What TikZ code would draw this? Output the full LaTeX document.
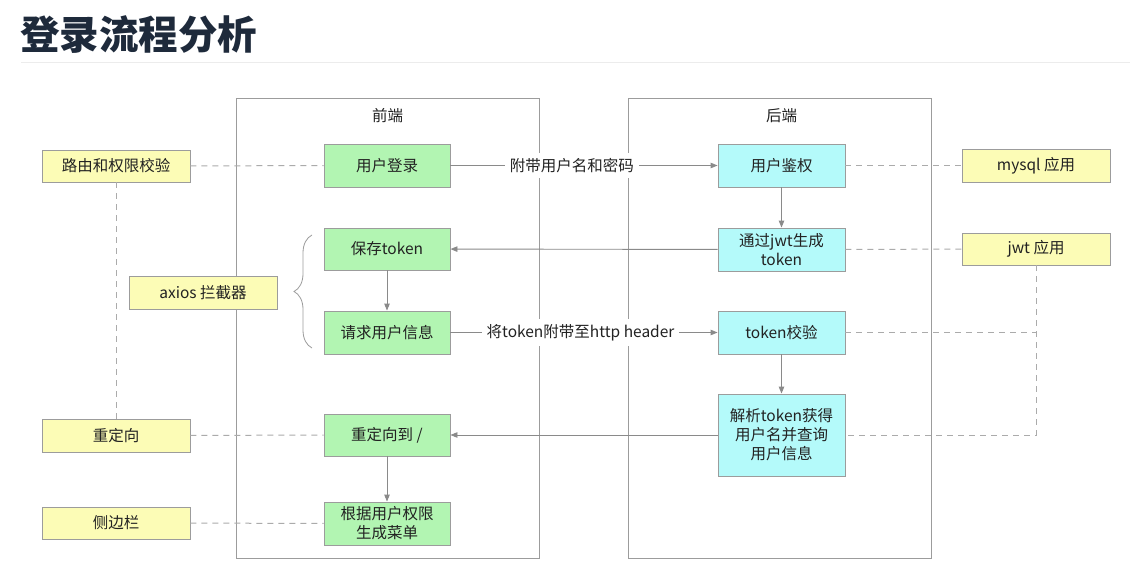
\documentclass[tikz,border=0pt]{standalone}
\usepackage{fontspec}
\setmainfont{Noto Sans CJK SC}
\usetikzlibrary{arrows.meta,decorations.pathreplacing}
\definecolor{boxgreen}{HTML}{B2F5B2}
\definecolor{boxcyan}{HTML}{B4FAFA}
\definecolor{boxyellow}{HTML}{FCFCB6}
\definecolor{bordergray}{HTML}{9C9C9C}
\definecolor{linegray}{HTML}{8A8A8A}
\definecolor{dashgray}{HTML}{ABABAB}
\definecolor{titleblue}{HTML}{1E2A3B}
\definecolor{txt}{HTML}{222222}
\tikzset{
  base/.style={draw=bordergray, line width=0.9pt, inner sep=0pt, align=center, text=txt,
    font=\fontsize{15.5}{19}\selectfont},
  fnode/.style={base, fill=boxgreen, minimum width=126pt, minimum height=43pt},
  bnode/.style={base, fill=boxcyan, minimum width=127pt, minimum height=43pt},
  ynode/.style={base, fill=boxyellow, minimum width=148pt, minimum height=33pt},
  container/.style={draw=bordergray, line width=1pt},
  arr/.style={draw=linegray, line width=0.9pt, -{Triangle[length=7pt,width=5.5pt]}},
  dline/.style={draw=dashgray, line width=1pt, dash pattern=on 6pt off 5pt},
  lbl/.style={fill=white, inner sep=5pt, text=txt, font=\fontsize{15.5}{19}\selectfont},
  hdr/.style={text=txt, font=\fontsize{15.5}{19}\selectfont}
}
\begin{document}
\begin{tikzpicture}[x=1pt,y=-1pt]
\useasboundingbox (0,0) rectangle (1135,583);
\fill[white] (0,0) rectangle (1135,583);
% title
\node[anchor=west, inner sep=0pt, text=titleblue, font=\fontsize{39.5}{46}\selectfont\bfseries] (title) at (20,35) {登录流程分析};
\draw[gray!15, line width=1.5pt] (21,62.5) -- (1130,62.5);
% containers
\draw[container] (236,99) rectangle (539,558);
\draw[container] (628,99) rectangle (931,558);
\node[hdr] (fe) at (387.5,116) {前端};
\node[hdr] (be) at (781.5,116) {后端};
% frontend nodes
\node[fnode] (login) at (387,165.5) {用户登录};
\node[fnode, minimum height=42pt] (save) at (387,249) {保存token};
\node[fnode] (req) at (387,332.5) {请求用户信息};
\node[fnode, minimum height=42pt] (redir) at (387,435) {重定向到 /};
\node[fnode] (menu) at (387,523.5) {根据用户权限\\生成菜单};
% backend nodes
\node[bnode] (auth) at (781.5,165.5) {用户鉴权};
\node[bnode] (jwt) at (781.5,249.5) {通过jwt生成\\token};
\node[bnode] (check) at (781.5,332.5) {token校验};
\node[bnode, minimum height=82pt] (parse) at (781.5,435) {解析token获得\\用户名并查询\\用户信息};
% yellow nodes
\node[ynode, minimum height=32pt] (route) at (116,166) {路由和权限校验};
\node[ynode] (axios) at (203,292.5) {axios 拦截器};
\node[ynode] (redirect) at (116,435.5) {重定向};
\node[ynode, minimum height=32pt] (sidebar) at (116,523) {侧边栏};
\node[ynode] (mysql) at (1036,165.5) {mysql 应用};
\node[ynode, minimum height=32pt] (jwtapp) at (1036,249) {jwt 应用};
% brace
\draw[bordergray, line width=0.8pt, decorate, decoration={brace, amplitude=18pt, aspect=0.5}] (312,348) -- (312,235);
% arrows
\draw[arr] (login) -- node[lbl, pos=0.455] {附带用户名和密码} (auth);
\draw[arr] (jwt) -- (save);
\draw[arr] (req) -- node[lbl, pos=0.487] {将token附带至http header} (check);
\draw[arr] (parse.west |- redir) -- (redir);
\draw[arr] (auth) -- (jwt);
\draw[arr] (check) -- (parse);
\draw[arr] (save) -- (req);
\draw[arr] (redir) -- (menu);
% dashed
\draw[dline] (route) -- (login);
\draw[dline] (redirect) -- (redir);
\draw[dline] (sidebar) -- (menu);
\draw[dline] (auth) -- (mysql);
\draw[dline] (jwt) -- (jwtapp);
\draw[dline] (route) -- (redirect);
\draw[dline] (jwtapp) -- (jwtapp |- parse) -- (parse);
\draw[dline] (check) -- (check -| jwtapp);
\end{tikzpicture}
\end{document}
